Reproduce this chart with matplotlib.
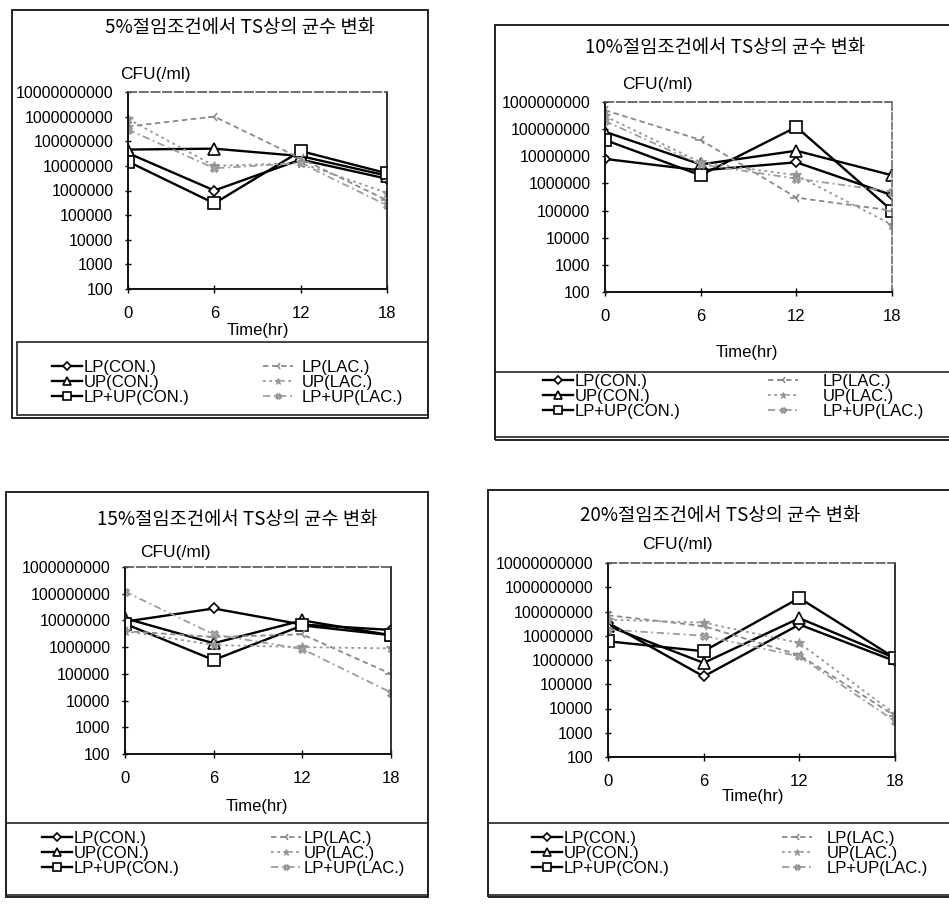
import matplotlib
matplotlib.use("Agg")
import matplotlib.pyplot as plt
from matplotlib.patches import Rectangle
from matplotlib.ticker import FixedLocator, FuncFormatter, NullLocator

plt.rcParams['font.family'] = ['Liberation Sans', 'Noto Sans CJK KR', 'DejaVu Sans']

W, H = 949, 906

hours = [0, 6, 12, 18]
labels = ['LP(CON.)', 'UP(CON.)', 'LP+UP(CON.)', 'LP(LAC.)', 'UP(LAC.)', 'LP+UP(LAC.)']
titles = ['5%절임조건에서 TS상의 균수 변화', '10%절임조건에서 TS상의 균수 변화',
          '15%절임조건에서 TS상의 균수 변화', '20%절임조건에서 TS상의 균수 변화']

# CFU(/ml)
lp_con_5 = [3.3e7, 1.0e6, 1.8e7, 3.0e6]
up_con_5 = [4.6e7, 5.0e7, 2.5e7, 4.0e6]
lpup_con_5 = [1.5e7, 3.0e5, 4.0e7, 5.0e6]
lp_lac_5 = [4.0e8, 1.0e9, 2.0e7, 4.0e5]
up_lac_5 = [8.0e8, 1.0e7, 1.3e7, 8.0e5]
lpup_lac_5 = [3.0e8, 8.0e6, 1.3e7, 2.5e5]

lp_con_10 = [8.0e6, 3.0e6, 6.0e6, 3.7e5]
up_con_10 = [8.0e7, 5.0e6, 1.6e7, 2.0e6]
lpup_con_10 = [4.0e7, 2.0e6, 1.2e8, 1.0e5]
lp_lac_10 = [5.0e8, 4.0e7, 3.0e5, 1.0e5]
up_lac_10 = [3.0e8, 6.0e6, 2.0e6, 3.0e4]
lpup_lac_10 = [2.0e8, 5.0e6, 1.5e6, 5.0e5]

lp_con_15 = [9.0e6, 2.8e7, 7.0e6, 4.4e6]
up_con_15 = [1.2e7, 1.4e6, 1.0e7, 2.8e6]
lpup_con_15 = [7.5e6, 3.3e5, 6.5e6, 2.8e6]
lp_lac_15 = [4.0e6, 2.4e6, 3.0e6, 1.0e5]
up_lac_15 = [4.0e6, 1.2e6, 1.0e6, 9.0e5]
lpup_lac_15 = [1.2e8, 3.0e6, 8.5e5, 2.0e4]

lp_con_20 = [3.4e7, 2.1e5, 2.9e7, 9.0e5]
up_con_20 = [2.5e7, 7.6e5, 5.3e7, 1.2e6]
lpup_con_20 = [5.9e6, 2.3e6, 3.6e8, 1.2e6]
lp_lac_20 = [7.0e7, 2.5e7, 1.6e6, 5.0e3]
up_lac_20 = [4.6e7, 3.5e7, 5.0e6, 6.0e3]
lpup_lac_20 = [1.8e7, 1.0e7, 1.4e6, 3.0e3]

panel_data = [
    [lp_con_5, up_con_5, lpup_con_5, lp_lac_5, up_lac_5, lpup_lac_5],
    [lp_con_10, up_con_10, lpup_con_10, lp_lac_10, up_lac_10, lpup_lac_10],
    [lp_con_15, up_con_15, lpup_con_15, lp_lac_15, up_lac_15, lpup_lac_15],
    [lp_con_20, up_con_20, lpup_con_20, lp_lac_20, up_lac_20, lpup_lac_20],
]
y_tops = [1e10, 1e9, 1e9, 1e10]

# pixel layout of each scanned panel
layout = [
    dict(frame=(12, 10, 428, 418), plot=(128, 92, 387, 289), title=(240, 28), cfu=(155, 75),
         xlab=(258, 330), legbox=(17, 342, 428, 415), col1=52, col2=263, pad2=0.5,
         row1=360, rside='-'),
    dict(frame=(495, 25, 960, 440), plot=(605, 102, 892, 292), title=(725, 48), cfu=(657, 85),
         xlab=(747, 352), legbox=(495, 372, 960, 437), col1=543, col2=768, pad2=1.5,
         row1=374, rside='--'),
    dict(frame=(6, 492, 428, 897), plot=(125, 567, 391, 754), title=(237, 520), cfu=(175, 553),
         xlab=(257, 807), legbox=(6, 823, 428, 895), col1=42, col2=271, pad2=0.15,
         row1=831, rside='-'),
    dict(frame=(488, 490, 960, 897), plot=(608, 563, 895, 757), title=(720, 515), cfu=(677, 545),
         xlab=(753, 797), legbox=(488, 823, 960, 895), col1=532, col2=782, pad2=0.9,
         row1=831, rside='-'),
]

styles = [
    dict(color='black', lw=1.7, ls='-', marker='D', ms=5.5, mfc='white', mec='black', mew=1.2),
    dict(color='black', lw=1.7, ls='-', marker='^', ms=8.5, mfc='white', mec='black', mew=1.2),
    dict(color='black', lw=1.7, ls='-', marker='s', ms=8.5, mfc='white', mec='black', mew=1.2),
    dict(color='#8a8a8a', lw=1.3, ls=(0, (3, 2)), marker='3', ms=8, mfc='#8a8a8a', mec='#8a8a8a', mew=1.2),
    dict(color='#969696', lw=1.3, ls=(0, (1.5, 2)), marker='*', ms=7, mfc='#969696', mec='#969696', mew=0.8),
    dict(color='#9c9c9c', lw=1.3, ls=(0, (4, 2, 1, 2)), marker='X', ms=6, mfc='#a4a4a4', mec='#888888', mew=0.6),
]


def box(x0, y0, x1, y1):
    return [x0 / W, 1 - y1 / H, (x1 - x0) / W, (y1 - y0) / H]


fig = plt.figure(figsize=(W / 100, H / 100), dpi=100)
fig.patch.set_facecolor('white')

for k, lay in enumerate(layout):
    fx0, fy0, fx1, fy1 = lay['frame']
    fig.add_artist(Rectangle((fx0 / W, 1 - fy1 / H), (fx1 - fx0) / W, (fy1 - fy0) / H,
                             transform=fig.transFigure, fill=False, ec='#222222', lw=1.4))
    lx0, ly0, lx1, ly1 = lay['legbox']
    fig.add_artist(Rectangle((lx0 / W, 1 - ly1 / H), (lx1 - lx0) / W, (ly1 - ly0) / H,
                             transform=fig.transFigure, fill=False, ec='#222222', lw=1.2))

    ax = fig.add_axes(box(*lay['plot']))
    handles = []
    for vals, name, st in zip(panel_data[k], labels, styles):
        h, = ax.plot(hours, vals, label=name, color=st['color'], lw=st['lw'], ls=st['ls'],
                     marker=st['marker'], ms=st['ms'], mfc=st['mfc'], mec=st['mec'], mew=st['mew'])
        handles.append(h)

    ax.set_yscale('log')
    ax.set_ylim(100, y_tops[k])
    ax.set_xlim(0, 18)
    decades = [10 ** e for e in range(2, 11) if 10 ** e <= y_tops[k]]
    ax.yaxis.set_major_locator(FixedLocator(decades))
    ax.yaxis.set_minor_locator(NullLocator())
    ax.yaxis.set_major_formatter(FuncFormatter(lambda v, p: f'{int(round(v))}'))
    ax.set_xticks(hours)
    ax.tick_params(axis='y', direction='inout', length=5, width=1, pad=8, labelsize=11.5)
    ax.tick_params(axis='x', direction='inout', length=6, width=1, pad=9, labelsize=12)
    for side in ['left', 'bottom']:
        ax.spines[side].set_linewidth(1.4)
        ax.spines[side].set_color('#111111')
    ax.spines['top'].set_linestyle((0, (5, 2)))
    ax.spines['top'].set_color('#555555')
    ax.spines['top'].set_linewidth(1.2)
    ax.spines['right'].set_linestyle(lay['rside'])
    ax.spines['right'].set_color('#222222' if lay['rside'] == '-' else '#777777')
    ax.spines['right'].set_linewidth(1.3)

    tx, ty = lay['title']
    fig.text(tx / W, 1 - ty / H, titles[k], ha='center', va='center', fontsize=13.5,
             family=['Noto Sans CJK KR', 'DejaVu Sans'])
    cx, cy = lay['cfu']
    fig.text(cx / W, 1 - cy / H, 'CFU(/ml)', ha='center', va='center', fontsize=12.5)
    xx, xy = lay['xlab']
    fig.text(xx / W, 1 - xy / H, 'Time(hr)', ha='center', va='center', fontsize=12)

    for cols, xpos, pad in ((slice(0, 3), lay['col1'], 0.1), (slice(3, 6), lay['col2'], lay['pad2'])):
        fig.legend(handles=handles[cols], loc='upper left',
                   bbox_to_anchor=(xpos / W, 1 - lay['row1'] / H),
                   frameon=False, fontsize=12, handlelength=1.8, handletextpad=pad,
                   labelspacing=0.0, borderpad=0, borderaxespad=0, handleheight=0.6,
                   markerscale=0.7)

fig.savefig('out.png', dpi=100, facecolor='white')
